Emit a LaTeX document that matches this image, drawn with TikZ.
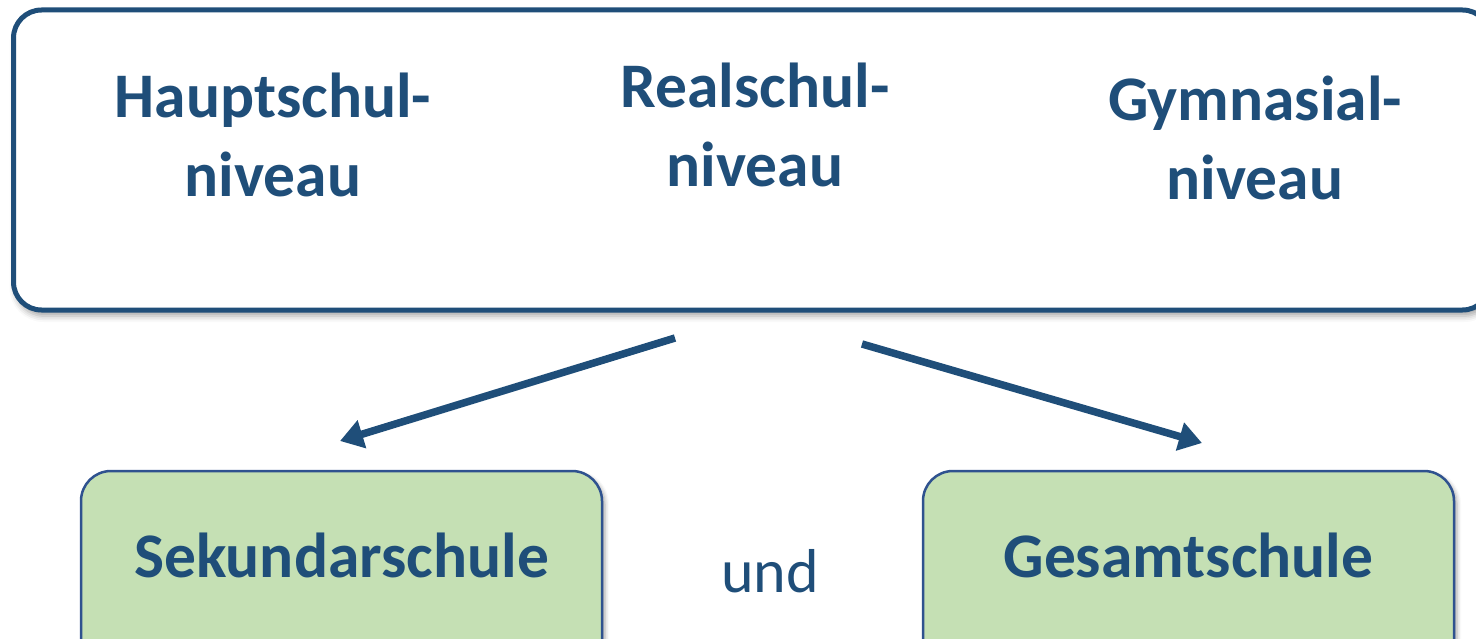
\documentclass[tikz,border=0pt]{standalone}
\usepackage{fontspec}
\setmainfont{Carlito}
\usetikzlibrary{arrows.meta,shadows.blur}
\definecolor{darkblue}{HTML}{1F4E79}
\definecolor{boxblue}{HTML}{2F528F}
\definecolor{lightgreen}{HTML}{C5E0B4}
\begin{document}
\begin{tikzpicture}[x=1pt,y=-1pt]
\tikzstyle{every node}+=[inner sep=0pt]
\tikzstyle{frame}=[draw=darkblue, line width=5pt, rounded corners=28pt, fill=white, blur shadow={shadow xshift=2pt, shadow yshift=-6pt, shadow blur radius=6pt, shadow opacity=35}]
\tikzstyle{level}=[text=darkblue, font=\fontsize{63.5}{79}\selectfont\bfseries, align=center, anchor=base]
\tikzstyle{school}=[draw=boxblue, line width=2.5pt, fill=lightgreen, rounded corners=30pt, text=darkblue, font=\fontsize{63.5}{79}\selectfont\bfseries, text height=44pt, text depth=31pt, minimum height=199pt, anchor=base, blur shadow={shadow xshift=3pt, shadow yshift=-3pt, shadow blur radius=4pt, shadow opacity=35}]
\tikzstyle{link}=[darkblue, line width=7.5pt, -{Triangle[length=23pt,width=28pt]}]
\useasboundingbox (0,0) rectangle (1476,639);
\node[frame, minimum width=1477pt, minimum height=300pt] (frame) at (752,160) {};
\node[level] (haupt) at (273,197) {Hauptschul-\\niveau};
\node[level] (real) at (755,187) {Realschul-\\niveau};
\node[level] (gym) at (1255,200) {Gymnasial-\\niveau};
\node[school, minimum width=521pt] (sek) at (341.5,577) {Sekundarschule};
\node[school, minimum width=531pt] (ges) at (1188.5,577) {Gesamtschule};
\node[text=darkblue, font=\fontsize{62}{79}\selectfont, anchor=base] (und) at (770,592) {und};
\coordinate (ls) at (675,338);
\coordinate (le) at (340,441);
\coordinate (rs) at (862,344);
\coordinate (re) at (1202,443);
\draw[link] (ls) -- (le);
\draw[link] (rs) -- (re);
\end{tikzpicture}
\end{document}
